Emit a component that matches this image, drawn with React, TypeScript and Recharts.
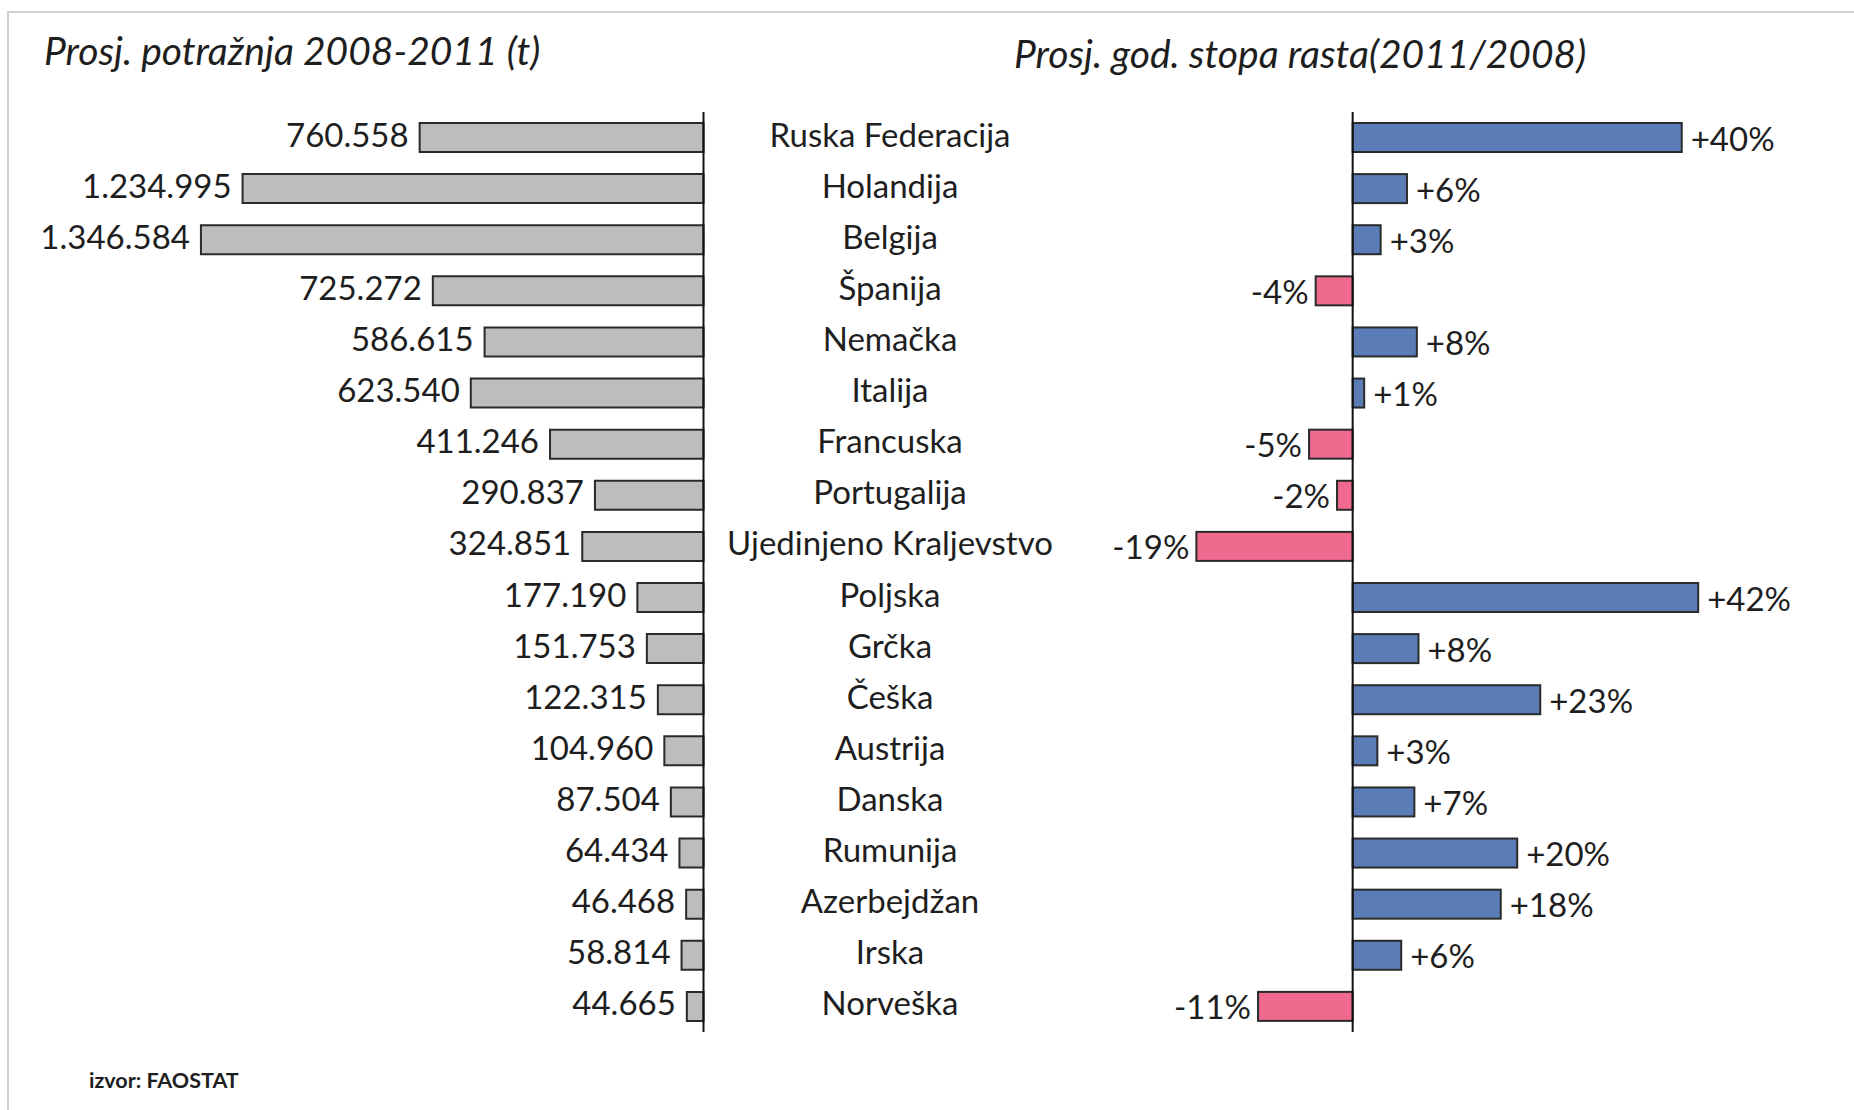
import React from 'react';
import { BarChart, Bar, XAxis, YAxis, LabelList, ReferenceLine } from 'recharts';

const countries = [
  'Ruska Federacija', 'Holandija', 'Belgija', 'Španija', 'Nemačka', 'Italija',
  'Francuska', 'Portugalija', 'Ujedinjeno Kraljevstvo', 'Poljska', 'Grčka', 'Češka',
  'Austrija', 'Danska', 'Rumunija', 'Azerbejdžan', 'Irska', 'Norveška',
];

// average demand 2008-2011, tonnes
const demand = [
  760558, 1234995, 1346584, 725272, 586615, 623540,
  411246, 290837, 324851, 177190, 151753, 122315,
  104960, 87504, 64434, 46468, 58814, 44665,
];

// average yearly growth, % (bar lengths)
const growth = [
  40, 6.6, 3.4, -4.5, 7.8, 1.4,
  -5.3, -1.9, -19, 42, 8, 22.8,
  3, 7.5, 20, 18, 5.9, -11.5,
];
const growthLabels = [
  '+40%', '+6%', '+3%', '-4%', '+8%', '+1%',
  '-5%', '-2%', '-19%', '+42%', '+8%', '+23%',
  '+3%', '+7%', '+20%', '+18%', '+6%', '-11%',
];

const data = countries.map((name, i) => ({
  name,
  demand: demand[i],
  growth: growth[i],
  label: growthLabels[i],
}));

const FONT = 'Lato, "Open Sans", sans-serif';
const TEXT = '#1e1e1e';

const fmt = (v: number) => String(v).replace(/\B(?=(\d{3})+(?!\d))/g, '.');

const DemandLabel = (props: any) => {
  const { x, y, width, height, value } = props;
  const left = Math.min(x, x + width);
  return (
    <text x={left - 11} y={y + height / 2 - 4} textAnchor="end" dominantBaseline="central"
      fontFamily={FONT} fontSize={33} fill={TEXT}>
      {fmt(value)}
    </text>
  );
};

const GrowthLabel = (props: any) => {
  const { x, y, width, height, index } = props;
  const g = growth[index];
  const left = Math.min(x, x + width);
  const right = Math.max(x, x + width);
  return (
    <text x={g >= 0 ? right + 9 : left - 7} y={y + height / 2}
      textAnchor={g >= 0 ? 'start' : 'end'} dominantBaseline="central"
      fontFamily={FONT} fontSize={33} fill={TEXT}>
      {growthLabels[index]}
    </text>
  );
};

const CountryTick = (props: any) => {
  const { y, payload } = props;
  return (
    <text x={890} y={y - 4} textAnchor="middle" dominantBaseline="central"
      fontFamily={FONT} fontSize={33} fill={TEXT}>
      {payload.value}
    </text>
  );
};

export default function App() {
  return (
    <div style={{ position: 'fixed', left: 0, top: 0, width: 1854, height: 1110, background: '#fff', overflow: 'hidden', fontFamily: FONT }}>
      <div style={{ position: 'absolute', left: 7, top: 11, width: 1900, height: 1200, border: '2px solid #cfcfcf' }} />

      <div style={{ position: 'absolute', left: 0, top: 0 }}>
        <BarChart width={1100} height={1110} data={data} layout="vertical"
          margin={{ top: 112, bottom: 78, left: 181, right: 395.5 }} barSize={29}>
          <XAxis type="number" domain={[0, 1400000]} reversed hide />
          <YAxis type="category" dataKey="name" orientation="right" width={1}
            axisLine={{ stroke: '#111', strokeWidth: 2 }} tickLine={false} tick={<CountryTick />} interval={0} />
          <Bar dataKey="demand" fill="#bdbdbd" stroke="#2a2a2a" strokeWidth={2} isAnimationActive={false}>
            <LabelList dataKey="demand" content={<DemandLabel />} />
          </Bar>
        </BarChart>
      </div>

      <div style={{ position: 'absolute', left: 0, top: 0 }}>
        <BarChart width={1854} height={1110} data={data} layout="vertical"
          margin={{ top: 112, bottom: 78, left: 1147, right: 90 }} barSize={29}>
          <XAxis type="number" domain={[-25, 50]} allowDataOverflow hide />
          <YAxis type="category" dataKey="name" hide />
          <Bar dataKey="growth" isAnimationActive={false} stroke="#2a2a2a" strokeWidth={2}
            shape={(p: any) => {
              const g = growth[p.index];
              const x = Math.min(p.x, p.x + p.width);
              const w = Math.abs(p.width);
              return <rect x={x} y={p.y} width={w} height={p.height}
                fill={g >= 0 ? '#5a7db8' : '#f0698f'} stroke="#2a2a2a" strokeWidth={2} />;
            }}>
            <LabelList dataKey="label" content={<GrowthLabel />} />
          </Bar>
          <ReferenceLine x={0} stroke="#111" strokeWidth={2} />
        </BarChart>
      </div>

      <div style={{ position: 'absolute', left: 44, top: 27, fontSize: 39, fontStyle: 'italic', color: TEXT, whiteSpace: 'nowrap' }}>
        Prosj. potražnja 2008-2011 (t)
      </div>
      <div style={{ position: 'absolute', left: 1014, top: 30, fontSize: 39, fontStyle: 'italic', color: TEXT, whiteSpace: 'nowrap' }}>
        Prosj. god. stopa rasta(2011/2008)
      </div>
      <div style={{ position: 'absolute', left: 89, top: 1067, fontSize: 21.5, fontWeight: 700, color: TEXT, whiteSpace: 'nowrap' }}>
        izvor: FAOSTAT
      </div>
    </div>
  );
}
